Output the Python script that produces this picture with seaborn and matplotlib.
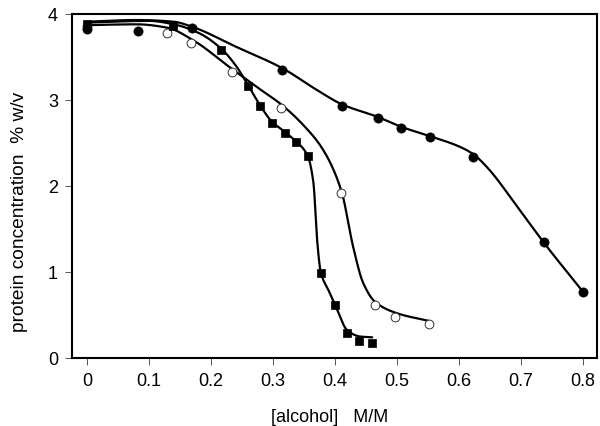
import numpy as np
import pandas as pd
import matplotlib
matplotlib.use("Agg")
import matplotlib.pyplot as plt
import seaborn as sns

# ---- data ----
# filled circles
x_fc = [0.0, 0.082, 0.169, 0.315, 0.411, 0.470, 0.506, 0.553, 0.623, 0.737, 0.800]
y_fc = [3.82, 3.80, 3.84, 3.35, 2.93, 2.79, 2.67, 2.57, 2.34, 1.35, 0.77]
# open circles
x_oc = [0.0, 0.129, 0.168, 0.234, 0.313, 0.410, 0.465, 0.497, 0.552]
y_oc = [3.86, 3.78, 3.66, 3.33, 2.91, 1.92, 0.62, 0.48, 0.40]
# filled squares
x_sq = [0.0, 0.139, 0.216, 0.260, 0.279, 0.298, 0.319, 0.337, 0.356, 0.377, 0.400, 0.419, 0.439, 0.459]
y_sq = [3.88, 3.86, 3.58, 3.16, 2.93, 2.73, 2.62, 2.51, 2.35, 0.99, 0.62, 0.29, 0.20, 0.17]

# fitted curve knots
cx_fc = [0.0, 0.08, 0.14, 0.17, 0.24, 0.315, 0.37, 0.411, 0.47, 0.506, 0.553, 0.60, 0.623, 0.645, 0.698, 0.737, 0.80]
cy_fc = [3.91, 3.93, 3.91, 3.85, 3.62, 3.37, 3.12, 2.95, 2.80, 2.69, 2.58, 2.46, 2.37, 2.22, 1.72, 1.34, 0.77]
cx_oc = [0.0, 0.08, 0.13, 0.17, 0.234, 0.28, 0.313, 0.35, 0.38, 0.41, 0.43, 0.445, 0.465, 0.50, 0.552]
cy_oc = [3.87, 3.88, 3.84, 3.70, 3.36, 3.12, 2.95, 2.70, 2.43, 1.95, 1.27, 0.88, 0.65, 0.52, 0.43]
cx_sq = [0.0, 0.10, 0.14, 0.18, 0.216, 0.24, 0.26, 0.279, 0.298, 0.319, 0.337, 0.356, 0.365, 0.372, 0.377, 0.39, 0.40, 0.42, 0.44, 0.46]
cy_sq = [3.90, 3.92, 3.88, 3.78, 3.60, 3.40, 3.17, 2.94, 2.75, 2.63, 2.52, 2.35, 2.05, 1.30, 1.00, 0.78, 0.62, 0.32, 0.25, 0.24]

x_ticks = [0, 0.1, 0.2, 0.3, 0.4, 0.5, 0.6, 0.7, 0.8]
x_ticklabels = ["0", "0.1", "0.2", "0.3", "0.4", "0.5", "0.6", "0.7", "0.8"]
y_ticks = [0, 1, 2, 3, 4]


def pchip(xk, yk, n=400):
    xk = np.asarray(xk, float)
    yk = np.asarray(yk, float)
    h = np.diff(xk)
    d = np.diff(yk) / h
    m = np.zeros_like(xk)
    for i in range(1, len(xk) - 1):
        if d[i - 1] * d[i] > 0:
            w1 = 2 * h[i] + h[i - 1]
            w2 = h[i] + 2 * h[i - 1]
            m[i] = (w1 + w2) / (w1 / d[i - 1] + w2 / d[i])
    m[0] = d[0]
    m[-1] = d[-1]
    xs = np.linspace(xk[0], xk[-1], n)
    idx = np.clip(np.searchsorted(xk, xs) - 1, 0, len(xk) - 2)
    t = (xs - xk[idx]) / h[idx]
    h00 = 2 * t**3 - 3 * t**2 + 1
    h10 = t**3 - 2 * t**2 + t
    h01 = -2 * t**3 + 3 * t**2
    h11 = t**3 - t**2
    ys = h00 * yk[idx] + h10 * h[idx] * m[idx] + h01 * yk[idx + 1] + h11 * h[idx] * m[idx + 1]
    return xs, ys


sns.set_theme(style="ticks")
plt.rcParams["font.family"] = ["Liberation Sans", "DejaVu Sans"]

fig = plt.figure(figsize=(6.0, 4.27), dpi=100)
ax = fig.add_axes([0.12, 0.1593, 0.875, 0.8056])

for cx, cy in [(cx_fc, cy_fc), (cx_oc, cy_oc), (cx_sq, cy_sq)]:
    xs, ys = pchip(cx, cy)
    sns.lineplot(x=xs, y=ys, ax=ax, color="black", linewidth=1.6, sort=False, estimator=None)

sns.scatterplot(x=x_oc, y=y_oc, ax=ax, marker="o", s=40, facecolor="white",
                edgecolor="#333333", linewidth=0.7, zorder=3)
sns.scatterplot(x=x_fc, y=y_fc, ax=ax, marker="o", s=44, color="black",
                edgecolor="black", linewidth=0.5, zorder=4)
sns.scatterplot(x=x_sq, y=y_sq, ax=ax, marker="s", s=38, color="black",
                edgecolor="black", linewidth=0.5, zorder=4)

ax.set_xlim(-0.0242, 0.8226)
ax.set_ylim(0, 4)
ax.set_xticks(x_ticks)
ax.set_xticklabels(x_ticklabels)
ax.set_yticks(y_ticks)
ax.tick_params(axis="both", labelsize=13, length=5, width=0.7, color="#555555",
               direction="out", pad=5, labelcolor="black")
for sp in ax.spines.values():
    sp.set_visible(True)
    sp.set_color("black")
    sp.set_linewidth(1.5)

ax.set_xlabel("[alcohol]   M/M", fontsize=13, color="black")
ax.set_ylabel("protein concentration  % w/v", fontsize=13.8, color="black")
ax.xaxis.set_label_coords(0.49, -0.145)
ax.yaxis.set_label_coords(-0.084, 0.427)

fig.savefig("out.png", dpi=100, facecolor="white")
